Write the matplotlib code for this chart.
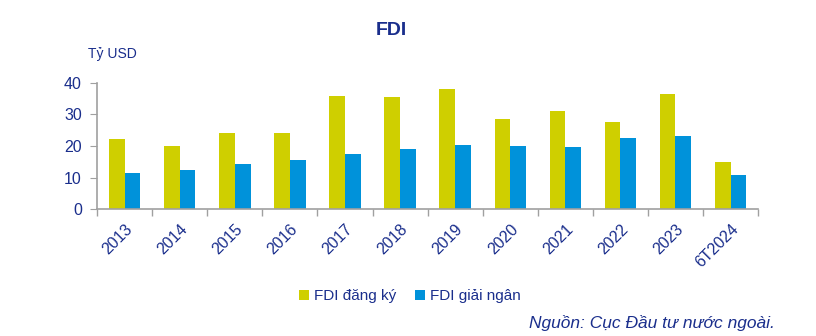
import numpy as np
import matplotlib.pyplot as plt

plt.rcParams['font.family'] = ['Liberation Sans', 'DejaVu Sans']

# data
years = ['2013', '2014', '2015', '2016', '2017', '2018', '2019', '2020',
         '2021', '2022', '2023', '6T2024']
fdi_dang_ky = [22.2, 20.1, 24.0, 24.2, 35.7, 35.4, 37.9, 28.4, 31.1, 27.6, 36.4, 15.0]
fdi_giai_ngan = [11.4, 12.3, 14.3, 15.6, 17.4, 19.0, 20.3, 19.9, 19.7, 22.4, 23.2, 10.8]

yellow = '#CFCF00'
blue = '#0092DA'
text_col = '#1A2E8C'
axis_col = '#A0A0A0'

fig = plt.figure(figsize=(8.16, 3.36), dpi=100)
ax = fig.add_axes([0.119, 0.377, 0.810, 0.377])

x = np.arange(len(years))
w = 0.285
ax.bar(x - w / 2, fdi_dang_ky, width=w, color=yellow, label='FDI đăng ký')
ax.bar(x + w / 2, fdi_giai_ngan, width=w, color=blue, label='FDI giải ngân')

ax.set_xlim(-0.5, len(years) - 0.5)
ax.set_ylim(0, 40)
ax.set_yticks([0, 10, 20, 30, 40])

# labels at centers, tick marks at category boundaries
ax.set_xticks(x)
ax.set_xticklabels(years, rotation=45, ha='right', rotation_mode='anchor')
ax.set_xticks(np.arange(len(years) + 1) - 0.5, minor=True)
ax.tick_params(axis='x', which='major', length=0, pad=9, labelsize=11.5, labelcolor=text_col)
ax.tick_params(axis='x', which='minor', length=5, color=axis_col, width=1)
ax.tick_params(axis='y', length=5, color=axis_col, labelsize=11.5, labelcolor=text_col, pad=6)

for side in ['top', 'right']:
    ax.spines[side].set_visible(False)
for side in ['left', 'bottom']:
    ax.spines[side].set_color(axis_col)
    ax.spines[side].set_linewidth(1.2)

fig.text(0.480, 0.91, 'FDI', ha='center', va='center', fontsize=14,
         fontweight='bold', color=text_col)
fig.text(0.108, 0.84, 'Tỷ USD', ha='left', va='center', fontsize=10, color=text_col)

fig.legend(loc='center', bbox_to_anchor=(0.502, 0.118), ncol=2, frameon=False,
           handlelength=0.7, handleheight=0.7, handletextpad=0.3, columnspacing=1.2,
           fontsize=11, labelcolor=text_col)

fig.text(0.950, 0.04, 'Nguồn: Cục Đầu tư nước ngoài.', ha='right', va='center',
         fontsize=12.5, style='italic', color=text_col)

fig.savefig('out.png', dpi=100)
